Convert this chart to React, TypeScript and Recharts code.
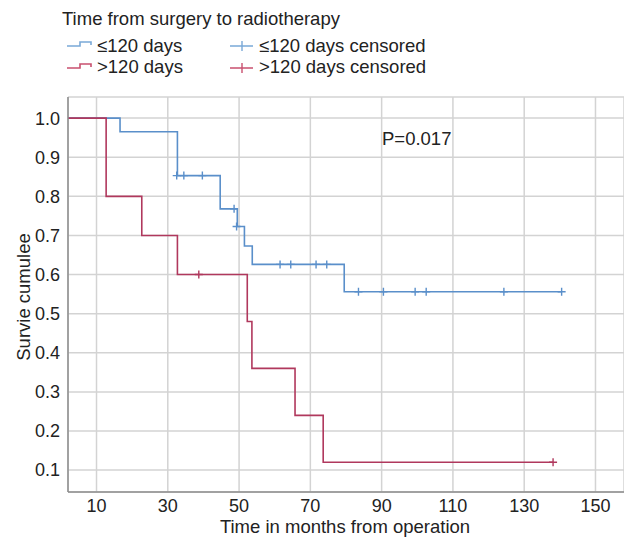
import React from "react";
import {
  CartesianGrid,
  ComposedChart,
  Line,
  Scatter,
  XAxis,
  YAxis,
} from "recharts";

// Kaplan-Meier steps (months, cumulative survival)
const earlyTimes = [2, 16.6, 32.7, 44.7, 49.5, 51.5, 53.7, 79.5, 140.5];
const earlySurv = [1.0, 0.965, 0.853, 0.768, 0.723, 0.673, 0.626, 0.556, 0.556];
const earlyCensTimes = [
  32.5, 34.5, 39.7, 48.6, 49.3, 61.5, 64.5, 71.6, 74.6, 83.5, 90.5, 99.4,
  102.5, 124.3, 140.5,
];
const earlyCensSurv = [
  0.853, 0.853, 0.853, 0.768, 0.723, 0.626, 0.626, 0.626, 0.626, 0.556, 0.556,
  0.556, 0.556, 0.556, 0.556,
];

const lateTimes = [2, 12.7, 22.7, 32.7, 52.3, 53.6, 65.7, 73.6, 138.1];
const lateSurv = [1.0, 0.8, 0.7, 0.6, 0.48, 0.36, 0.24, 0.12, 0.12];
const lateCensTimes = [38.7, 138.1];
const lateCensSurv = [0.6, 0.12];

const xTicks = [10, 30, 50, 70, 90, 110, 130, 150];
const yTicks = [0.1, 0.2, 0.3, 0.4, 0.5, 0.6, 0.7, 0.8, 0.9, 1.0];

const BLUE = "#5a8fca";
const RED = "#b0385d";
const FONT = "'Liberation Sans', Arial, sans-serif";

const zip = (t: number[], s: number[]) => t.map((v, i) => ({ t: v, s: s[i] }));

const earlyData = zip(earlyTimes, earlySurv);
const earlyCens = zip(earlyCensTimes, earlyCensSurv);
const lateData = zip(lateTimes, lateSurv);
const lateCens = zip(lateCensTimes, lateCensSurv);

function Cross(color: string) {
  return (props: any) => {
    const { cx, cy } = props;
    return (
      <path
        d={`M${cx - 4},${cy}H${cx + 4}M${cx},${cy - 4}V${cy + 4}`}
        stroke={color}
        strokeWidth={1.4}
        fill="none"
      />
    );
  };
}

function StepIcon({ y, color }: { y: number; color: string }) {
  return (
    <path
      d={`M67,${y}H80V${y - 4}H91V${y - 1}`}
      stroke={color}
      strokeWidth={1.6}
      fill="none"
    />
  );
}

function CrossIcon({ y, color }: { y: number; color: string }) {
  return (
    <path
      d={`M230,${y}H253M242,${y - 5}V${y + 5}`}
      stroke={color}
      strokeWidth={1.4}
      fill="none"
    />
  );
}

export default function App() {
  return (
    <div
      style={{
        position: "absolute",
        left: 0,
        top: 0,
        width: 624,
        height: 540,
        background: "#fff",
        fontFamily: FONT,
      }}
    >
      <ComposedChart
        width={624}
        height={540}
        margin={{ top: 97, right: 0, bottom: 0, left: 0 }}
      >
        <CartesianGrid stroke="#d3d3d3" strokeWidth={1.5} />
        <XAxis
          type="number"
          dataKey="t"
          domain={[2, 158]}
          ticks={xTicks}
          interval={0}
          allowDataOverflow
          height={48}
          tickLine={false}
          tickMargin={1}
          axisLine={{ stroke: "#8c8c8c", strokeWidth: 1.5 }}
          tick={{ fontSize: 18, fill: "#222", fontFamily: FONT }}
        />
        <YAxis
          type="number"
          dataKey="s"
          domain={[0.044, 1.054]}
          ticks={yTicks}
          interval={0}
          allowDataOverflow
          width={68}
          tickLine={false}
          tickFormatter={(v: number) => v.toFixed(1)}
          axisLine={{ stroke: "#8c8c8c", strokeWidth: 1.5 }}
          tick={{ fontSize: 18, fill: "#222", fontFamily: FONT }}
        />
        <Line
          data={earlyData}
          dataKey="s"
          type="stepAfter"
          stroke={BLUE}
          strokeWidth={1.6}
          dot={false}
          isAnimationActive={false}
        />
        <Line
          data={lateData}
          dataKey="s"
          type="stepAfter"
          stroke={RED}
          strokeWidth={1.6}
          dot={false}
          isAnimationActive={false}
        />
        <Scatter
          data={earlyCens}
          dataKey="s"
          shape={Cross(BLUE)}
          isAnimationActive={false}
        />
        <Scatter
          data={lateCens}
          dataKey="s"
          shape={Cross(RED)}
          isAnimationActive={false}
        />
      </ComposedChart>
      <svg
        width={624}
        height={540}
        style={{ position: "absolute", left: 0, top: 0, pointerEvents: "none" }}
        fontFamily={FONT}
        fontSize={18.5}
        fill="#222"
      >
        <text x={62} y={25}>Time from surgery to radiotherapy</text>
        <StepIcon y={46} color="#7aa9d8" />
        <text x={97} y={52}>≤120 days</text>
        <StepIcon y={68} color="#c9506f" />
        <text x={97} y={73}>&gt;120 days</text>
        <CrossIcon y={46} color="#7aa9d8" />
        <text x={259} y={52}>≤120 days censored</text>
        <CrossIcon y={68} color="#c9506f" />
        <text x={259} y={73}>&gt;120 days censored</text>
        <text x={382} y={145}>P=0.017</text>
        <text x={345} y={533} textAnchor="middle">
          Time in months from operation
        </text>
        <text transform="translate(30,297) rotate(-90)" textAnchor="middle">
          Survie cumulee
        </text>
      </svg>
    </div>
  );
}
